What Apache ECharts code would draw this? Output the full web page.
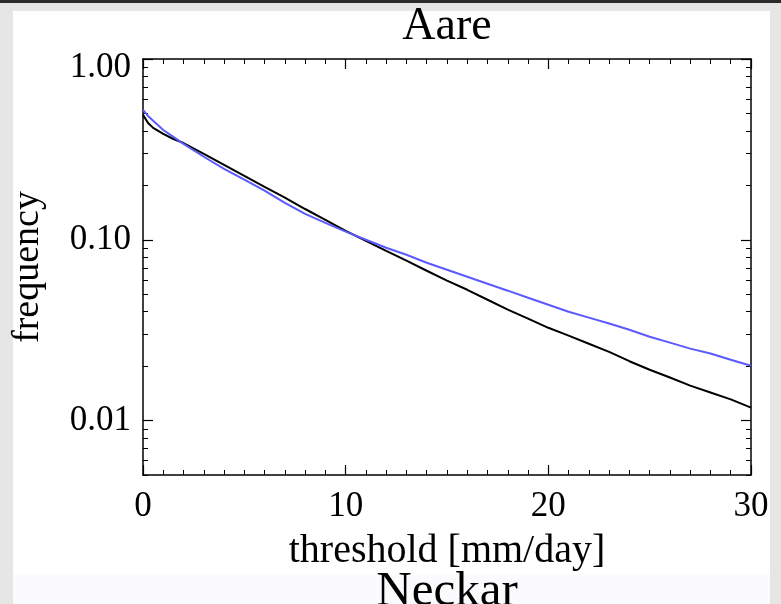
<!DOCTYPE html>
<html><head><meta charset="utf-8">
<script src="https://cdn.jsdelivr.net/npm/echarts@6/dist/echarts.min.js"></script>
<style>html,body{margin:0;padding:0;background:#e6e6e6;overflow:hidden}#c{width:781px;height:604px}</style>
</head><body><div id="c"></div>
<script>
// ---- data ----
const titleText = 'Aare';
const nextTitleText = 'Neckar';
const xName = 'threshold [mm/day]';
const yName = 'frequency';
const thresholds = [0,0.25,0.5,1,1.5,2,3,4,5,6,7,8,9,10,11,12,13,14,15,16,17,18,19,20,21,22,23,24,25,26,27,28,29,30];
const blackFreq = [0.491,0.443,0.416,0.385,0.361,0.343,0.299,0.260,0.226,0.196,0.171,0.148,0.129,0.112,0.0987,0.0869,0.0766,0.0674,0.0594,0.0529,0.0466,0.0411,0.0366,0.0326,0.0295,0.0266,0.0240,0.0213,0.0191,0.0173,0.0156,0.0143,0.0131,0.0118];
const blueFreq  = [0.523,0.484,0.455,0.405,0.371,0.339,0.288,0.247,0.215,0.187,0.160,0.139,0.124,0.111,0.100,0.0903,0.0826,0.0746,0.0683,0.0625,0.0571,0.0523,0.0478,0.0437,0.0400,0.0371,0.0344,0.0318,0.0291,0.0270,0.0250,0.0235,0.0217,0.0201];
const xTickValues = [0,10,20,30];
const yMajorValues = [0.01,0.1,1];
const yMinorValues = [0.005,0.006,0.007,0.008,0.009,0.02,0.03,0.04,0.05,0.06,0.07,0.08,0.09,0.2,0.3,0.4,0.5,0.6,0.7,0.8,0.9];

// ---- chart ----
const FONT = 'Liberation Serif';
const chart = echarts.init(document.getElementById('c'), null, {renderer:'canvas'});
const pair = (xs, ys) => xs.map((x,i)=>[x, ys[i]]);
const lineBlack = {color:'#000', width:1.5};

function xAxis(pos, labels){
  return {type:'value', position:pos, min:0, max:30, interval:10, gridIndex:0,
    splitLine:{show:false},
    axisLine:{show:true, onZero:false, lineStyle:lineBlack},
    axisTick:{show:true, inside:true, length:10, lineStyle:{color:'#000', width:1.2}},
    minorTick:{show:true, splitNumber:10, length:5, lineStyle:{color:'#000', width:1}},
    axisLabel:{show:labels, margin:14, color:'#000', fontFamily:FONT, fontSize:35},
    name: labels ? xName : '', nameLocation:'middle', nameGap:56,
    nameTextStyle:{color:'#000', fontFamily:FONT, fontSize:40}
  };
}
function yAxis(pos, major, labels){
  return {type:'log', logBase:10, position:pos, min:0.005, max:1, gridIndex:0,
    splitLine:{show:false},
    axisLine:{show:major, onZero:false, lineStyle:lineBlack},
    axisTick:{show:true, inside:true, length: major?10:5, customValues: major?yMajorValues:yMinorValues,
      lineStyle:{color:'#000', width: major?1.2:1}},
    axisLabel:{show:labels, customValues:yMajorValues, margin:12, color:'#000', fontFamily:FONT, fontSize:35,
      formatter: v => (Math.abs(v-1)<1e-9 ? '{s|' + v.toFixed(2) + '}' : v.toFixed(2)),
      rich:{s:{padding:[18,0,0,0], color:'#000', fontFamily:FONT, fontSize:35}}},
    name: labels ? yName : '', nameLocation:'middle', nameGap:96, nameRotate:90,
    nameTextStyle:{color:'#000', fontFamily:FONT, fontSize:38}
  };
}

chart.setOption({
  backgroundColor:'#e6e6e6',
  animation:false,
  grid:{left:143, top:59, width:608, height:416, containLabel:false},
  xAxis:[xAxis('bottom', true), xAxis('top', false)],
  yAxis:[yAxis('left', true, true), yAxis('left', false, false), yAxis('right', true, false), yAxis('right', false, false)],
  graphic:[
    {type:'rect', z:-100, shape:{x:0,y:0,width:781,height:3}, style:{fill:'#2b2b2b'}, silent:true},
    {type:'rect', z:-100, shape:{x:13,y:11,width:757,height:563}, style:{fill:'#ffffff'}, silent:true},
    {type:'rect', z:-100, shape:{x:13,y:574,width:757,height:30}, style:{fill:'#fbfbfd'}, silent:true},
    {type:'text', z:10, x:447, y:27, style:{text:titleText, fill:'#000', font:'46px "Liberation Serif"', align:'center', verticalAlign:'middle'}},
    {type:'text', z:10, x:447, y:592, style:{text:nextTitleText, fill:'#000', font:'49px "Liberation Serif"', align:'center', verticalAlign:'middle'}}
  ],
  series:[
    {type:'line', xAxisIndex:0, yAxisIndex:0, data:pair(thresholds, blackFreq), showSymbol:false, symbol:'none',
      lineStyle:{color:'#000', width:2}, itemStyle:{color:'#000'}},
    {type:'line', xAxisIndex:0, yAxisIndex:0, data:pair(thresholds, blueFreq), showSymbol:false, symbol:'none',
      lineStyle:{color:'#5a5aff', width:2}, itemStyle:{color:'#5a5aff'}}
  ]
});
</script></body></html>
